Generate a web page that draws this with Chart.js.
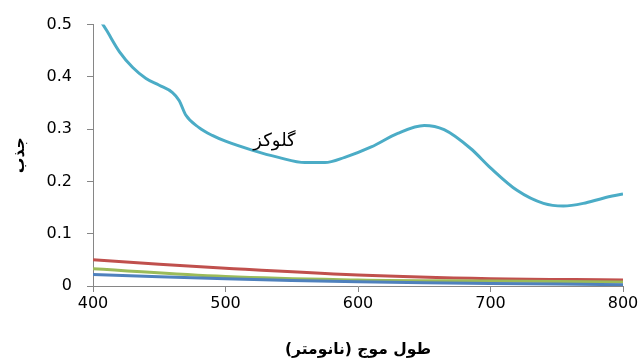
<!DOCTYPE html>
<html>
<head>
<meta charset="utf-8">
<script src="https://cdn.jsdelivr.net/npm/chart.js@4/dist/chart.umd.min.js"></script>
<style>
  html, body { margin: 0; padding: 0; background: #ffffff; }
  #wrap { width: 641px; height: 359px; position: relative; }
</style>
</head>
<body>
<div id="wrap"><canvas id="c" width="641" height="359"></canvas></div>
<script>
// Absorbance spectra (wavelength in nm)
const glucoseWavelengths = [400, 410, 420, 430, 440, 450, 460, 465, 470, 480, 490, 500, 520, 540, 560, 575, 590, 610, 630, 650, 665, 685, 700, 720, 740, 755, 770, 785, 800];
const glucoseAbsorbance  = [0.53, 0.49, 0.448, 0.418, 0.397, 0.384, 0.370, 0.355, 0.327, 0.303, 0.288, 0.277, 0.260, 0.246, 0.236, 0.236, 0.246, 0.266, 0.292, 0.307, 0.299, 0.263, 0.226, 0.183, 0.158, 0.153, 0.158, 0.168, 0.176];

const baseWavelengths = [400, 500, 600, 700, 800];
const redAbsorbance   = [0.050, 0.034, 0.021, 0.014, 0.0115];
const greenAbsorbance = [0.033, 0.018, 0.0115, 0.0095, 0.0078];
const blueAbsorbance  = [0.022, 0.014, 0.008, 0.005, 0.0025];

const xTicks = [400, 500, 600, 700, 800];
const yTicks = [0, 0.1, 0.2, 0.3, 0.4, 0.5];

const seriesLabel = 'گلوکز';
const xTitle = 'طول موج (نانومتر)';
const yTitle = 'جذب';

const toPoints = (xs, ys) => xs.map((x, i) => ({ x: x, y: ys[i] }));

const axisColor = '#868686';
const tickFont = { family: 'DejaVu Sans', size: 16 };
const titleFontCss = 'bold 15.5px "DejaVu Sans"';

// Axis titles and the series name, drawn right-to-left straight on the canvas
const textPlugin = {
  id: 'persianText',
  afterDraw(chart) {
    const { ctx, scales, chartArea } = chart;
    ctx.save();
    ctx.direction = 'rtl';
    ctx.fillStyle = '#000000';
    ctx.textAlign = 'center';
    ctx.textBaseline = 'middle';

    // series name beside the glucose curve
    ctx.font = '18px "DejaVu Sans"';
    ctx.fillText(seriesLabel, scales.x.getPixelForValue(537), scales.y.getPixelForValue(0.277));

    // x axis title
    ctx.font = titleFontCss;
    ctx.fillText(xTitle, (chartArea.left + chartArea.right) / 2, 350);

    // y axis title, rotated
    ctx.translate(20, (chartArea.top + chartArea.bottom) / 2);
    ctx.rotate(-Math.PI / 2);
    ctx.fillText(yTitle, 0, 0);
    ctx.restore();
  }
};

new Chart(document.getElementById('c'), {
  type: 'line',
  data: {
    datasets: [
      { data: toPoints(baseWavelengths, blueAbsorbance),  borderColor: '#4F81BD', borderWidth: 3, pointRadius: 0, tension: 0.4 },
      { data: toPoints(baseWavelengths, greenAbsorbance), borderColor: '#9BBB59', borderWidth: 3, pointRadius: 0, tension: 0.4 },
      { data: toPoints(baseWavelengths, redAbsorbance),   borderColor: '#C0504D', borderWidth: 3, pointRadius: 0, tension: 0.4 },
      { data: toPoints(glucoseWavelengths, glucoseAbsorbance), borderColor: '#4BACC6', borderWidth: 3, pointRadius: 0, cubicInterpolationMode: 'monotone' }
    ]
  },
  options: {
    responsive: false,
    animation: false,
    devicePixelRatio: 1,
    layout: { padding: { top: 23, right: 18, left: 0, bottom: 0 } },
    plugins: { legend: { display: false }, tooltip: { enabled: false } },
    scales: {
      x: {
        type: 'linear',
        min: 400, max: 800,
        afterBuildTicks: (s) => { s.ticks = xTicks.map(v => ({ value: v })); },
        afterFit: (s) => { s.height = 73; },
        grid: { drawOnChartArea: false, drawTicks: true, tickLength: 6, color: axisColor },
        border: { color: axisColor, width: 1 },
        ticks: { color: '#000000', font: tickFont, padding: 2, maxRotation: 0 },
        title: { display: false }
      },
      y: {
        type: 'linear',
        min: 0, max: 0.5,
        afterBuildTicks: (s) => { s.ticks = yTicks.map(v => ({ value: v })); },
        afterFit: (s) => { s.width = 93; },
        grid: { drawOnChartArea: false, drawTicks: true, tickLength: 6, color: axisColor },
        border: { color: axisColor, width: 1 },
        ticks: { color: '#000000', font: tickFont, padding: 15 },
        title: { display: false }
      }
    }
  },
  plugins: [textPlugin]
});
</script>
</body>
</html>
